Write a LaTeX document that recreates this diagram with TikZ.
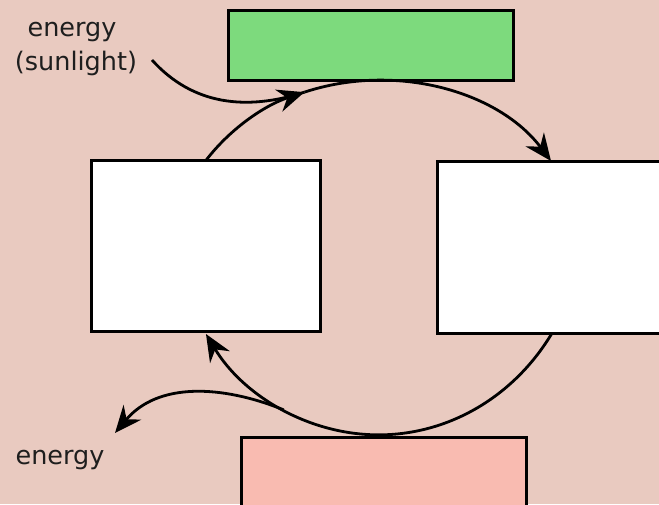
\documentclass[tikz,border=0pt]{standalone}
\usepackage{fontspec}
\setmainfont{DejaVu Sans}
\usetikzlibrary{arrows.meta}
\definecolor{bgc}{RGB}{233,202,192}
\definecolor{greenc}{RGB}{125,218,125}
\definecolor{pinkc}{RGB}{249,187,177}
\definecolor{txtc}{RGB}{30,30,30}
\tikzset{
  box/.style={draw=black, line width=3pt, inner sep=0pt, outer sep=0pt},
  line/.style={draw=black, line width=2.8pt},
  arr/.style={line, -{Stealth[length=27pt,width=23pt,inset=9pt]}},
  lbl/.style={text=txtc, font=\fontsize{25.5}{30}\selectfont, inner sep=0pt}
}
\begin{document}
\begin{tikzpicture}[x=1pt,y=1pt]
\useasboundingbox (0,0) rectangle (659,504);
\clip (0,0) rectangle (659,504);
\fill[bgc] (0,0) rectangle (659,504);
% boxes
\node[box, fill=greenc, minimum width=285pt, minimum height=70pt] (G) at (370.5,458) {};
\node[box, fill=white, minimum width=229pt, minimum height=171pt] (L) at (205.5,257.5) {};
\node[box, fill=white, minimum width=229pt, minimum height=172pt] (R) at (551.5,256) {};
\node[box, fill=pinkc, minimum width=285pt, minimum height=70pt] (P) at (383.5,32) {};
% labels
\node[lbl, anchor=base] (e1) at (72,467) {energy};
\node[lbl, anchor=base] (e2) at (76,433) {(sunlight)};
\node[lbl, anchor=base] (e3) at (60,40) {energy};
% top cycle arc
\coordinate (sunstart) at (152,444);
\path (L.north) arc[start angle=147,end angle=111,x radius=206,y radius=177] coordinate (sun);
\draw[line] (sunstart) to[out=-48,in=198] (sun);
\draw[arr] (L.north) arc[start angle=147,end angle=111,x radius=206,y radius=177];
\draw[arr] (sun) arc[start angle=111,end angle=33,x radius=206,y radius=177];
% bottom cycle arc
\path (R.south) arc[start angle=-33,end angle=-117.5,x radius=206,y radius=221.5] coordinate (branch);
\coordinate (etip) at (115,71);
\draw[arr] (branch) to[out=158,in=50] (etip);
\draw[arr] (R.south) arc[start angle=-33,end angle=-147,x radius=206,y radius=221.5];
\end{tikzpicture}
\end{document}
